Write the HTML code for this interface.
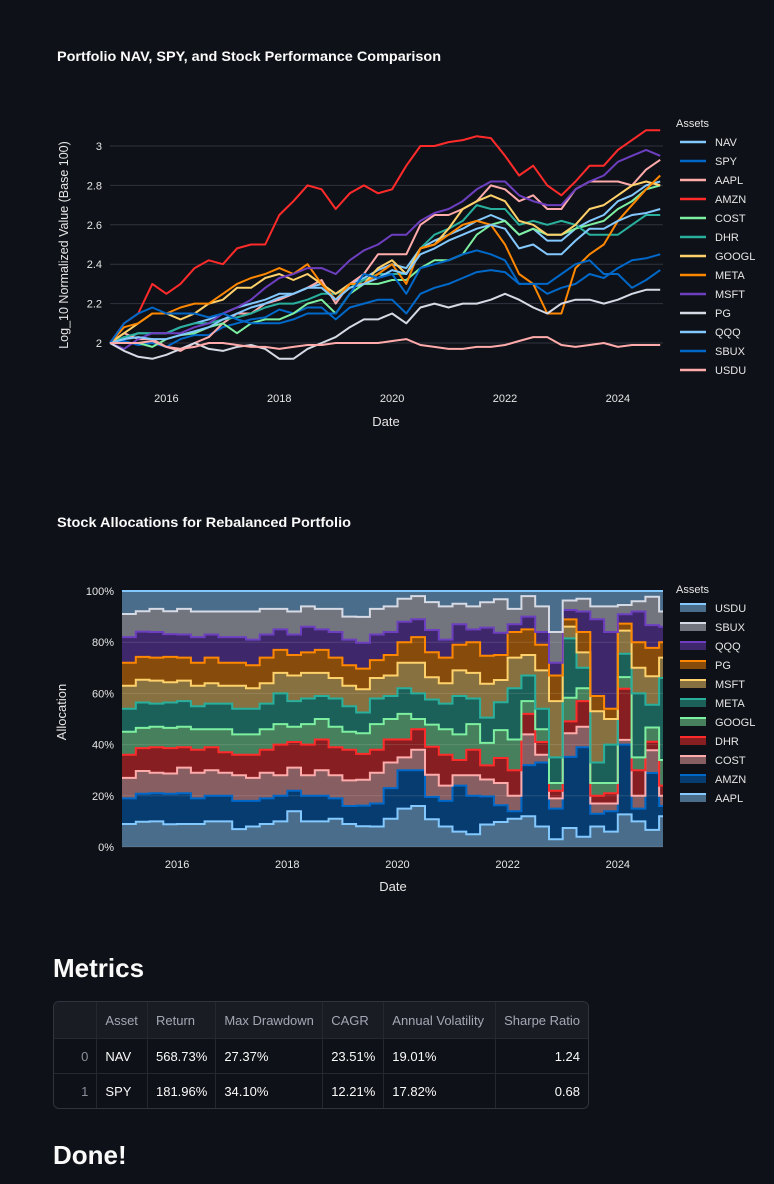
<!DOCTYPE html>
<html><head><meta charset="utf-8">
<style>
html,body{margin:0;padding:0;background:#0e1117;width:774px;height:1184px;overflow:hidden;font-family:"Liberation Sans",sans-serif;color:#fafafa}
svg text{font-family:"Liberation Sans",sans-serif}
.h{position:absolute;left:53px;font-weight:bold;font-size:26px;color:#fafafa;margin:0}
table{position:absolute;left:53px;top:1001px;border-collapse:separate;border-spacing:0;border:1px solid #31333f;border-radius:6px;font-size:13px;width:536px;overflow:hidden}
td,th{border-right:1px solid #262730;border-bottom:1px solid #262730;padding:0 8px;height:34px;white-space:nowrap}
th{font-weight:normal;color:#a3a8b4;text-align:left;background:#1a1c24;height:36px}
td.i{color:#8a8f9b;text-align:right}
td.r{text-align:right}
tr:last-child td{border-bottom:none}
td:last-child,th:last-child{border-right:none}
</style></head>
<body>
<svg id="c1" width="774" height="460" style="position:absolute;left:0;top:0">
<text x="57" y="61" font-size="14" font-weight="bold" fill="#fafafa" textLength="384" lengthAdjust="spacingAndGlyphs">Portfolio NAV, SPY, and Stock Performance Comparison</text>
<g id="g1"></g>
</svg>
<svg id="c2" width="774" height="440" style="position:absolute;left:0;top:480px">
<text x="57" y="47" font-size="14" font-weight="bold" fill="#fafafa" textLength="294" lengthAdjust="spacingAndGlyphs">Stock Allocations for Rebalanced Portfolio</text>
<g id="g2"></g>
</svg>
<h2 class="h" style="top:953px">Metrics</h2>
<table>
<tr><th style="width:34px"></th><th style="width:34px">Asset</th><th style="width:50px">Return</th><th style="width:90px">Max Drawdown</th><th style="width:42px">CAGR</th><th style="width:96px">Annual Volatility</th><th>Sharpe Ratio</th></tr>
<tr><td class="i">0</td><td>NAV</td><td>568.73%</td><td>27.37%</td><td>23.51%</td><td>19.01%</td><td class="r">1.24</td></tr>
<tr><td class="i">1</td><td>SPY</td><td>181.96%</td><td>34.10%</td><td>12.21%</td><td>17.82%</td><td class="r">0.68</td></tr>
</table>
<h2 class="h" style="top:1140px">Done!</h2>
<script>
// ---------- Chart 1 data (log10 normalized, quarterly from 2015.0) ----------
const dates1 = [];
for (let i = 0; i < 40; i++) dates1.push(2015 + i * 0.25);
const assets1 = ["NAV","SPY","AAPL","AMZN","COST","DHR","GOOGL","META","MSFT","PG","QQQ","SBUX","USDU"];
const navVals  = [2.0,2.02,2.05,2.05,2.05,2.08,2.1,2.12,2.15,2.18,2.2,2.22,2.25,2.25,2.28,2.3,2.25,2.3,2.33,2.37,2.4,2.38,2.48,2.52,2.55,2.58,2.62,2.65,2.62,2.55,2.58,2.52,2.52,2.58,2.62,2.65,2.72,2.75,2.8,2.82];
const spyVals  = [2.0,2.01,1.99,2.0,1.98,2.02,2.04,2.04,2.08,2.1,2.12,2.13,2.17,2.15,2.18,2.18,2.12,2.18,2.2,2.22,2.22,2.15,2.25,2.28,2.3,2.33,2.36,2.37,2.36,2.3,2.3,2.25,2.28,2.3,2.35,2.33,2.38,2.42,2.43,2.45];
const aaplVals = [2.0,2.05,2.02,2.02,1.98,1.96,2.0,2.03,2.1,2.15,2.15,2.2,2.22,2.25,2.28,2.32,2.2,2.3,2.35,2.45,2.45,2.45,2.6,2.65,2.65,2.68,2.72,2.8,2.78,2.72,2.75,2.68,2.68,2.78,2.82,2.82,2.82,2.8,2.88,2.93];
const amznVals = [2.0,2.1,2.15,2.3,2.25,2.3,2.38,2.42,2.4,2.48,2.5,2.5,2.65,2.72,2.8,2.78,2.68,2.76,2.8,2.76,2.78,2.9,3.0,3.0,3.02,3.03,3.05,3.04,2.95,2.85,2.9,2.8,2.75,2.82,2.9,2.9,2.98,3.03,3.08,3.08];
const costVals = [2.0,2.0,2.0,1.98,2.02,2.04,2.05,2.08,2.1,2.05,2.1,2.12,2.12,2.15,2.2,2.22,2.15,2.25,2.3,2.3,2.32,2.32,2.38,2.42,2.42,2.45,2.55,2.6,2.62,2.55,2.58,2.55,2.55,2.58,2.6,2.62,2.68,2.72,2.78,2.8];
const dhrVals  = [2.0,2.03,2.05,2.05,2.05,2.08,2.1,2.1,2.12,2.13,2.15,2.18,2.2,2.2,2.22,2.25,2.25,2.28,2.32,2.35,2.35,2.35,2.48,2.55,2.58,2.62,2.7,2.68,2.68,2.6,2.62,2.6,2.62,2.6,2.55,2.55,2.55,2.6,2.65,2.65];
const googVals = [2.0,2.05,2.1,2.15,2.15,2.12,2.15,2.2,2.22,2.28,2.28,2.33,2.35,2.32,2.35,2.3,2.25,2.3,2.3,2.38,2.42,2.35,2.48,2.5,2.58,2.68,2.72,2.75,2.72,2.62,2.6,2.55,2.55,2.6,2.68,2.7,2.75,2.8,2.82,2.8];
const metaVals = [2.0,2.08,2.1,2.15,2.15,2.18,2.2,2.2,2.25,2.3,2.33,2.35,2.38,2.35,2.4,2.3,2.22,2.3,2.3,2.35,2.4,2.3,2.48,2.5,2.55,2.6,2.62,2.6,2.5,2.35,2.3,2.15,2.15,2.38,2.45,2.5,2.62,2.7,2.78,2.85];
const msftVals = [2.0,1.97,2.02,2.05,2.05,2.05,2.08,2.1,2.15,2.18,2.22,2.28,2.33,2.35,2.38,2.38,2.35,2.42,2.47,2.5,2.55,2.55,2.62,2.66,2.68,2.72,2.78,2.82,2.82,2.75,2.72,2.7,2.7,2.78,2.82,2.85,2.92,2.95,2.98,2.95];
const pgVals   = [2.0,1.96,1.93,1.92,1.94,1.97,2.0,1.97,1.96,1.98,1.99,1.97,1.92,1.92,1.97,2.0,2.03,2.08,2.12,2.12,2.15,2.1,2.18,2.2,2.18,2.2,2.2,2.22,2.25,2.22,2.18,2.15,2.2,2.22,2.22,2.2,2.22,2.25,2.27,2.27];
const qqqVals  = [2.0,2.02,2.03,2.02,2.02,2.04,2.06,2.08,2.12,2.15,2.18,2.2,2.23,2.25,2.28,2.28,2.22,2.28,2.3,2.33,2.37,2.35,2.45,2.48,2.52,2.55,2.58,2.6,2.58,2.48,2.5,2.45,2.45,2.52,2.58,2.58,2.62,2.65,2.66,2.68];
const sbuxVals = [2.0,2.1,2.15,2.18,2.15,2.15,2.15,2.13,2.15,2.12,2.1,2.1,2.1,2.12,2.15,2.15,2.15,2.25,2.35,2.33,2.35,2.25,2.38,2.4,2.42,2.45,2.47,2.45,2.42,2.3,2.3,2.3,2.35,2.4,2.42,2.35,2.35,2.28,2.32,2.37];
const usduVals = [2.0,2.0,2.0,2.01,1.98,1.97,1.98,2.0,2.0,1.99,1.98,1.98,1.97,1.98,1.99,1.99,2.0,2.0,2.0,2.0,2.01,2.02,1.99,1.98,1.97,1.97,1.98,1.98,1.99,2.01,2.03,2.03,1.99,1.98,1.99,2.0,1.98,1.99,1.99,1.99];
const yTicks1 = [2,2.2,2.4,2.6,2.8,3];
const yTickLabels1 = ["2","2.2","2.4","2.6","2.8","3"];
const xTicks = [2016,2018,2020,2022,2024];
const xTickLabels = ["2016","2018","2020","2022","2024"];

// ---------- Chart 2 data (allocation weights %, quarterly) ----------
const assets2 = ["AAPL","AMZN","COST","DHR","GOOGL","META","MSFT","PG","QQQ","SBUX","USDU"];
const wAAPL = [9,10,10,9,9,9,10,10,7,8,9,10,14,10,10,11,9,8,8,11,15,16,10,8,6,5,8,9,11,12,8,3,8,4,8,6,14,10,6,12];
const wAMZN = [10,11,11,12,12,10,10,10,11,10,10,10,8,10,10,8,7,8,9,12,15,14,8,10,18,15,10,6,3,20,25,12,30,35,5,8,30,5,20,4];
const wCOST = [8,9,8,8,10,10,10,9,10,9,10,8,9,8,10,9,10,10,12,10,5,8,8,6,4,8,6,8,6,12,3,4,10,8,4,3,2,5,8,4];
const wDHR  = [9,9,10,10,8,9,9,8,8,9,9,12,10,12,12,11,12,10,9,9,7,8,10,12,6,10,5,9,10,8,5,3,5,10,3,4,22,10,3,4];
const wGOOGL= [9,8,8,8,8,8,7,9,8,8,8,8,6,8,8,8,7,8,10,8,10,4,8,10,10,10,8,10,12,5,5,3,10,5,5,4,5,5,5,10];
const wMETA = [9,10,9,10,10,9,10,10,10,10,10,12,10,10,9,11,10,8,10,9,10,10,9,10,15,10,9,10,20,10,8,10,25,8,8,15,10,25,8,32];
const wMSFT = [9,9,9,8,8,8,8,7,9,8,8,8,10,10,9,8,8,9,8,8,10,12,8,8,10,10,12,8,12,8,15,22,5,6,20,10,10,10,10,8];
const wPG   = [9,9,9,10,9,9,10,9,9,9,10,9,8,8,9,8,8,8,7,8,8,10,9,10,10,12,10,9,10,10,10,10,3,8,6,4,3,10,10,6];
const wQQQ  = [10,10,10,9,9,10,9,10,10,10,9,8,8,10,8,10,10,10,10,9,8,7,8,7,8,5,10,8,3,5,5,5,4,8,30,30,4,12,8,6];
const wSBUX = [9,8,9,9,10,10,9,10,10,11,10,8,9,8,8,9,9,10,10,10,9,9,10,13,8,9,9,12,6,8,10,12,4,5,5,10,4,4,10,6];
const wUSDU = [9,8,7,8,7,8,8,8,8,8,7,7,8,6,7,7,10,10,7,6,3,2,4,6,5,6,4,3,7,2,6,16,4,3,6,6,6,4,2,8];
const yTicks2 = [0,20,40,60,80,100];
const yTickLabels2 = ["0%","20%","40%","60%","80%","100%"];

const colors = ["#83c9ff","#0068c9","#ffabab","#ff2b2b","#7defa1","#29b09d","#ffd16a","#ff8700","#6d3fc0","#d5dae5"];
const NS = "http://www.w3.org/2000/svg";
function mk(tag, attrs, parent){const e=document.createElementNS(NS,tag);for(const k in attrs)e.setAttribute(k,attrs[k]);parent.appendChild(e);return e;}

// ---------- Chart 1 ----------
(function(){
  const g = document.getElementById("g1");
  const X0=110, X1=663, T0=2015, T1=2024.8;
  const x = t => X0 + (t - T0) * (X1 - X0) / (T1 - T0);
  const y = v => 343 - (v - 2) * 197;
  yTicks1.forEach((v,i)=>{
    const l = mk("line",{x1:X0,x2:X1,y1:y(v),y2:y(v),stroke:"#31333f","stroke-width":1},g);
    
    
    const t = mk("text",{x:X0-8,y:y(v)+4,"text-anchor":"end","font-size":11,fill:"#e6e6e6"},g);
    t.textContent = yTickLabels1[i];
    
    
  });
  xTicks.forEach((v,i)=>{
    const t = mk("text",{x:x(v),y:402,"text-anchor":"middle","font-size":11,fill:"#e6e6e6"},g);
    t.textContent = xTickLabels[i];
    
    
  });
  const xt = mk("text",{x:386,y:426,"text-anchor":"middle","font-size":13,fill:"#e6e6e6"},g);
  xt.textContent="Date";
  
  
  const yt = mk("text",{x:0,y:0,"text-anchor":"middle","font-size":12.5,fill:"#e6e6e6",transform:"translate(68,245) rotate(-90)"},g);
  yt.textContent="Log_10 Normalized Value (Base 100)";
  
  
  const series = [navVals,spyVals,aaplVals,amznVals,costVals,dhrVals,googVals,metaVals,msftVals,pgVals,qqqVals,sbuxVals,usduVals];
  series.forEach((vals,k)=>{
    const d = vals.map((v,i)=>(i?"L":"M")+x(dates1[i]).toFixed(1)+","+y(v).toFixed(1)).join("");
    const p = mk("path",{d:d,fill:"none",stroke:colors[k%10],"stroke-width":2,"stroke-linejoin":"round"},g);
    
    
  });
  const lt = mk("text",{x:676,y:127,"font-size":11,fill:"#e6e6e6"},g);
  lt.textContent="Assets";
  
  
  assets1.forEach((a,k)=>{
    const yy = 142 + k*19;
    const it = mk("g",{},g);
    
    
    mk("line",{x1:680,x2:706,y1:yy,y2:yy,stroke:colors[k%10],"stroke-width":2.5},it);
    const t = mk("text",{x:715,y:yy+4,"font-size":11,fill:"#e6e6e6"},it);
    t.textContent=a;
  });
})();

// ---------- Chart 2 ----------
(function(){
  const g = document.getElementById("g2");
  const OY = 480;
  const X0=122, X1=663, T0=2015, T1=2024.82;
  const x = t => X0 + (t - T0) * (X1 - X0) / (T1 - T0);
  const y = v => 847 - OY - v * 2.56;
  const W = [wAAPL,wAMZN,wCOST,wDHR,wGOOGL,wMETA,wMSFT,wPG,wQQQ,wSBUX,wUSDU];
  const cols2 = ["#83c9ff","#0068c9","#ffabab","#ff2b2b","#7defa1","#29b09d","#ffd16a","#ff8700","#6d3fc0","#d5dae5","#83c9ff"];
  const n = dates1.length;
  const totals = dates1.map((_,i)=>W.reduce((s,w)=>s+w[i],0));
  let prev = dates1.map(()=>0);
  const tops = [];
  W.forEach((w,k)=>{
    const cur = prev.map((p,i)=>p + w[i]/totals[i]*100);
    tops.push(cur);
    const stepPts = arr => {
      const pts=[];
      for(let i=0;i<n;i++){
        const xa = x(dates1[i]), xb = i<n-1 ? x(dates1[i+1]) : X1;
        pts.push([xa,y(arr[i])],[xb,y(arr[i])]);
      }
      return pts;
    };
    const up = stepPts(cur), lo = stepPts(prev).reverse();
    const d = "M"+up.concat(lo).map(p=>p[0].toFixed(1)+","+p[1].toFixed(1)).join("L")+"Z";
    const a = mk("path",{d:d,fill:cols2[k],"fill-opacity":0.5,stroke:"none"},g);
    
    
    prev = cur;
  });
  yTicks2.forEach((v,i)=>{
    const l = mk("line",{x1:X0,x2:X1,y1:y(v),y2:y(v),stroke:"#ffffff","stroke-opacity":0.12,"stroke-width":1},g);
    
    
    const t = mk("text",{x:X0-8,y:y(v)+4,"text-anchor":"end","font-size":11,fill:"#e6e6e6"},g);
    t.textContent = yTickLabels2[i];
    
    
  });
  tops.forEach((cur,k)=>{
    let d="";
    for(let i=0;i<n;i++){
      const xa = x(dates1[i]), xb = i<n-1 ? x(dates1[i+1]) : X1;
      d += (i?"L":"M")+xa.toFixed(1)+","+y(cur[i]).toFixed(1)+"L"+xb.toFixed(1)+","+y(cur[i]).toFixed(1);
    }
    const p = mk("path",{d:d,fill:"none",stroke:cols2[k],"stroke-width":2},g);
    
    
  });
  xTicks.forEach((v,i)=>{
    const t = mk("text",{x:x(v),y:868-OY,"text-anchor":"middle","font-size":11,fill:"#e6e6e6"},g);
    t.textContent = xTickLabels[i];
    
    
  });
  const xt = mk("text",{x:393,y:891-OY,"text-anchor":"middle","font-size":13,fill:"#e6e6e6"},g);
  xt.textContent="Date";
  
  
  const yt = mk("text",{x:0,y:0,"text-anchor":"middle","font-size":13,fill:"#e6e6e6",transform:"translate(66,"+(712-OY)+") rotate(-90)"},g);
  yt.textContent="Allocation";
  
  
  const lt = mk("text",{x:676,y:593-OY,"font-size":11,fill:"#e6e6e6"},g);
  lt.textContent="Assets";
  
  
  for(let j=0;j<assets2.length;j++){
    const k = assets2.length-1-j;
    const yy = 608 - OY + j*19;
    const it = mk("g",{},g);
    
    
    mk("rect",{x:680,y:yy-4,width:26,height:8,fill:cols2[k],"fill-opacity":0.5},it);
    mk("line",{x1:680,x2:706,y1:yy-4,y2:yy-4,stroke:cols2[k],"stroke-width":2},it);
    const t = mk("text",{x:715,y:yy+4,"font-size":11,fill:"#e6e6e6"},it);
    t.textContent=assets2[k];
  }
})();
</script>
</body></html>
